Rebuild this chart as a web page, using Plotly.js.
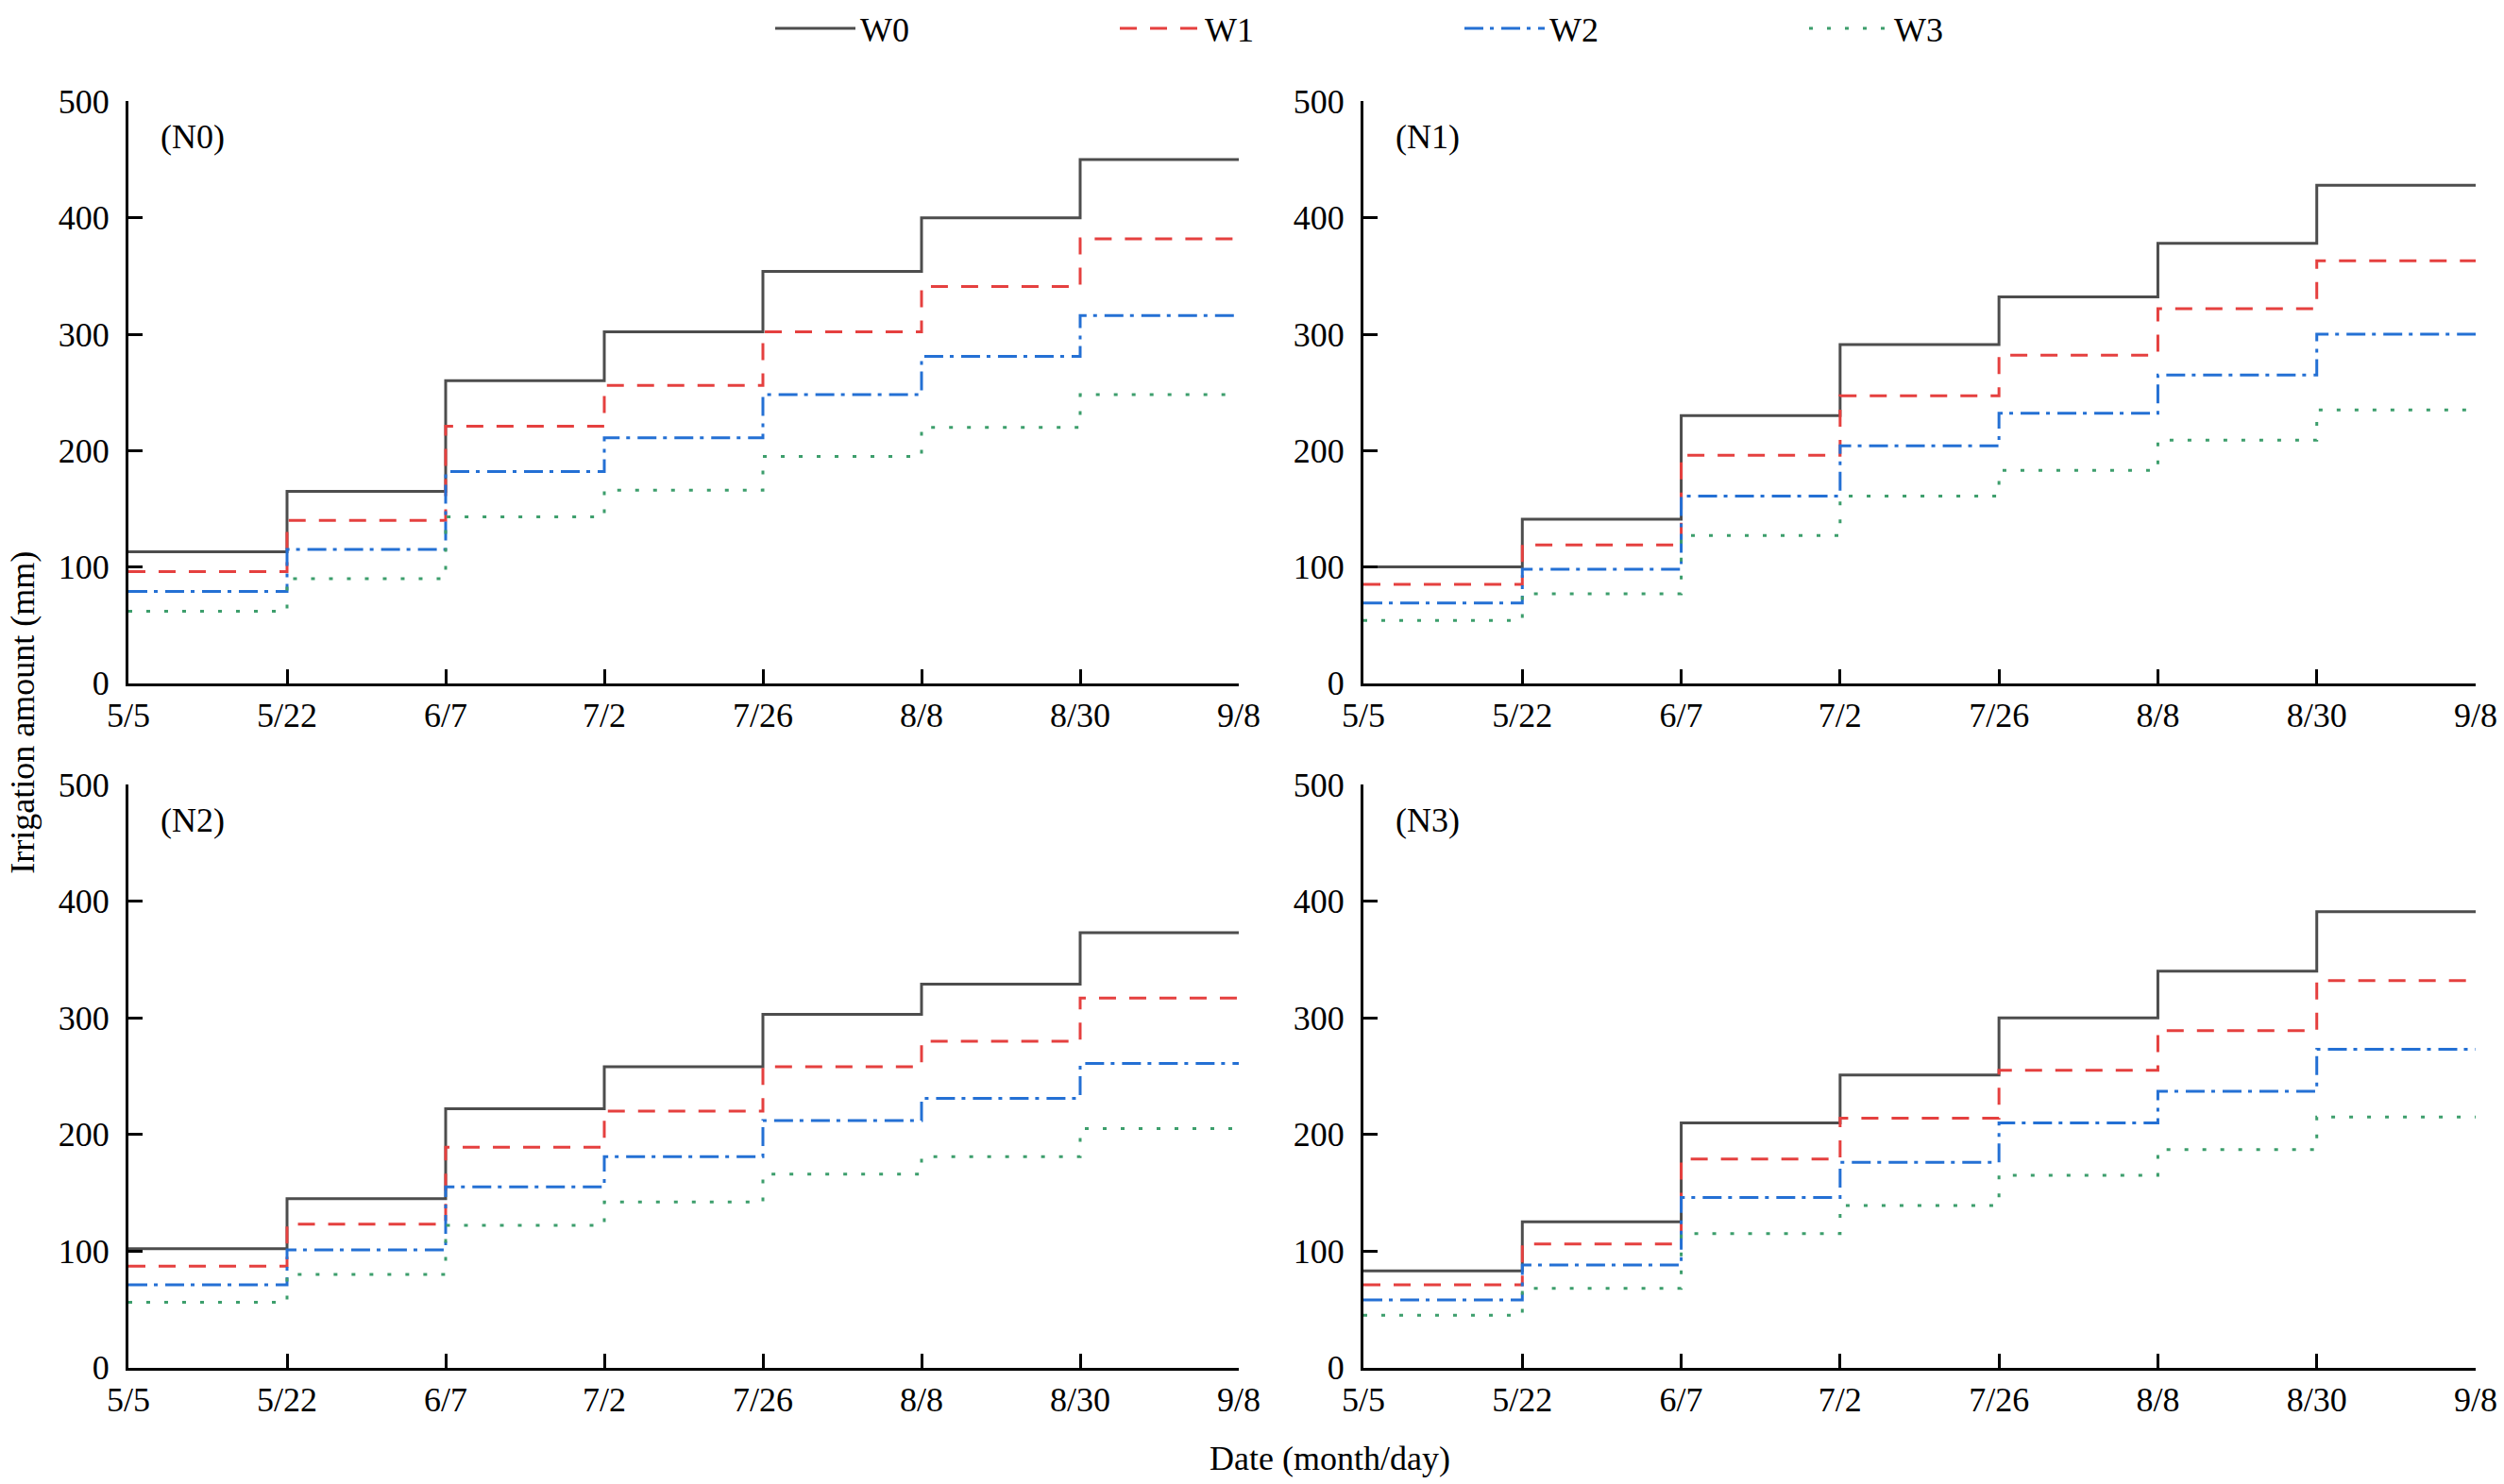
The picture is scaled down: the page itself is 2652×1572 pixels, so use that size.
<!DOCTYPE html>
<html>
<head>
<meta charset="utf-8">
<script src="https://cdn.plot.ly/plotly-3.0.1.min.js"></script>
<style>html,body{margin:0;padding:0;background:#fff;overflow:hidden;}#chart{width:2652px;height:1572px;}</style>
</head>
<body>
<div id="chart"></div>
<script>
// ---- data ----
var dates = ['5/5','5/22','6/7','7/2','7/26','8/8','8/30','9/8'];
var yTicks = [0,100,200,300,400,500];
var seriesNames = ['W0','W1','W2','W3'];
var panelNames = ['(N0)','(N1)','(N2)','(N3)'];

var N0_W0 = [113,165,260,302,354,400,450];
var N0_W1 = [96,140,221,256,302,341,382];
var N0_W2 = [79,115,182,211,248,281,316];
var N0_W3 = [62,90,143,166,195,220,248];

var N1_W0 = [100,141,230,291,332,378,428];
var N1_W1 = [85,119,196,247,282,322,363];
var N1_W2 = [69,98,161,204,232,265,300];
var N1_W3 = [54,77,127,161,183,209,235];

var N2_W0 = [102,145,222,258,303,329,373];
var N2_W1 = [87,123,189,220,258,280,317];
var N2_W2 = [71,101,155,181,212,231,261];
var N2_W3 = [56,80,122,142,166,181,205];

var N3_W0 = [83,125,210,251,300,340,391];
var N3_W1 = [71,106,179,214,255,289,332];
var N3_W2 = [58,88,146,176,210,237,273];
var N3_W3 = [45,68,115,139,165,187,215];

var panels = [
  [N0_W0, N0_W1, N0_W2, N0_W3],
  [N1_W0, N1_W1, N1_W2, N1_W3],
  [N2_W0, N2_W1, N2_W2, N2_W3],
  [N3_W0, N3_W1, N3_W2, N3_W3]
];

// ---- styles ----
var W = 2652, H = 1572;
var FONT = 'Liberation Serif';
var colors = ['#4d4d4d', '#e5403f', '#2470d4', '#3d9e6c'];
var dashes = ['solid', '18px,14px', '20px,7px,4px,8px', '4px,15px'];

var xDom = [[136/W, 1312/W], [1444/W, 2622/W]];
var yDom = [[1 - 719/H, 1 - 99/H], [1 - 1448/H, 1 - 827/H]];

var traces = [];
var layout = {
  width: W, height: H,
  margin: {l: 0, r: 0, t: 0, b: 0},
  paper_bgcolor: '#fff', plot_bgcolor: '#fff',
  font: {family: FONT, size: 36, color: '#000'},
  showlegend: true,
  legend: {
    orientation: 'h', x: 816/W, xanchor: 'left', y: 1 - 21/H, yanchor: 'middle',
    font: {family: FONT, size: 36, color: '#000'},
    itemwidth: 85, entrywidth: 265, entrywidthmode: 'pixels',
    bgcolor: 'rgba(0,0,0,0)', tracegroupgap: 0
  },
  annotations: []
};

for (var p = 0; p < 4; p++) {
  var col = p % 2, row = Math.floor(p / 2);
  var ax = p === 0 ? '' : String(p + 1);
  layout['xaxis' + ax] = {
    domain: xDom[col], anchor: 'y' + ax,
    type: 'category', categoryorder: 'array', categoryarray: dates,
    range: [0, dates.length - 1],
    tickmode: 'array', tickvals: dates, ticktext: dates,
    showline: true, linecolor: '#000', linewidth: 3,
    ticks: 'inside', ticklen: 15, tickwidth: 3, tickcolor: '#000',
    showgrid: false, zeroline: false, fixedrange: true,
    tickfont: {family: FONT, size: 36, color: '#000'},
    ticklabelstandoff: 0
  };
  layout['yaxis' + ax] = {
    domain: yDom[row], anchor: 'x' + ax,
    range: [0, 500], tickmode: 'array', tickvals: yTicks,
    showline: true, linecolor: '#000', linewidth: 3,
    ticks: 'inside', ticklen: 15, tickwidth: 3, tickcolor: '#000',
    showgrid: false, zeroline: false, fixedrange: true,
    tickfont: {family: FONT, size: 36, color: '#000'},
    ticklabelstandoff: 10
  };
  layout.annotations.push({
    text: panelNames[p], xref: 'x' + ax + ' domain', yref: 'y' + ax + ' domain',
    x: 0.027, y: 0.939, xanchor: 'left', yanchor: 'middle', showarrow: false,
    font: {family: FONT, size: 36, color: '#000'}
  });
  for (var s = 0; s < 4; s++) {
    var vals = panels[p][s];
    traces.push({
      type: 'scatter', mode: 'lines',
      x: dates, y: vals.concat([vals[vals.length - 1]]),
      xaxis: 'x' + ax, yaxis: 'y' + ax,
      name: seriesNames[s], legendgroup: seriesNames[s], showlegend: p === 0,
      line: {shape: 'hv', color: colors[s], width: 3, dash: dashes[s]},
      hoverinfo: 'skip'
    });
  }
}

layout.annotations.push({
  text: 'Irrigation amount (mm)', xref: 'paper', yref: 'paper',
  x: 24/W, y: 1 - 750/H, xanchor: 'center', yanchor: 'middle', textangle: -90,
  showarrow: false, font: {family: FONT, size: 36, color: '#000'}
});
layout.annotations.push({
  text: 'Date (month/day)', xref: 'paper', yref: 'paper',
  x: 1408/W, y: 1 - 1545/H, xanchor: 'center', yanchor: 'middle',
  showarrow: false, font: {family: FONT, size: 36, color: '#000'}
});

Plotly.newPlot('chart', traces, layout, {staticPlot: true, displayModeBar: false});
</script>
</body>
</html>
